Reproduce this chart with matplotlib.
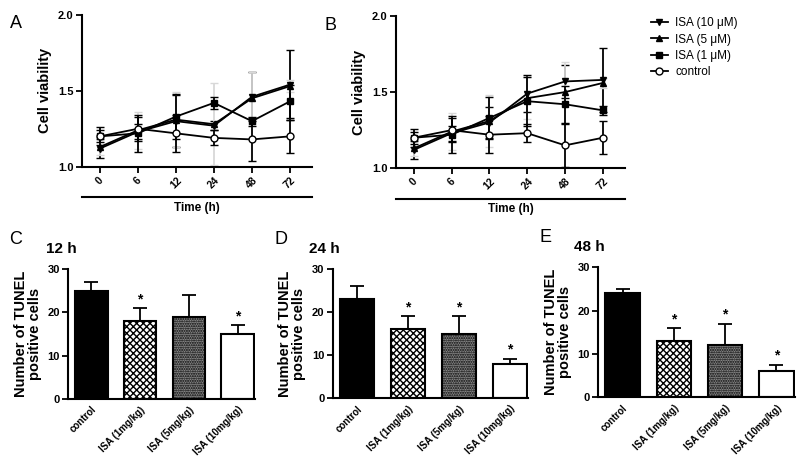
import numpy as np
import matplotlib.pyplot as plt
from matplotlib.lines import Line2D

plt.rcParams['font.family'] = ['Liberation Sans', 'DejaVu Sans']
plt.rcParams['hatch.linewidth'] = 1.0

# time course data (panels A and B)
times = ['0', '6', '12', '24', '48', '72']
series_names = ['ISA (10 μM)', 'ISA (5 μM)', 'ISA (1 μM)', 'control']

a_10 = [1.12, 1.23, 1.30, 1.27, 1.46, 1.54]
a_10_err = [0.06, 0.05, 0.17, 0.03, 0.16, 0.23]
a_5 = [1.13, 1.24, 1.31, 1.28, 1.45, 1.53]
a_5_err = [0.05, 0.12, 0.18, 0.27, 0.17, 0.04]
a_1 = [1.20, 1.22, 1.33, 1.42, 1.30, 1.43]
a_1_err = [0.04, 0.12, 0.15, 0.04, 0.03, 0.11]
a_ctrl = [1.20, 1.25, 1.22, 1.19, 1.18, 1.20]
a_ctrl_err = [0.06, 0.08, 0.12, 0.05, 0.14, 0.11]

b_10 = [1.12, 1.23, 1.30, 1.49, 1.57, 1.58]
b_10_err = [0.06, 0.05, 0.10, 0.12, 0.11, 0.21]
b_5 = [1.13, 1.24, 1.31, 1.46, 1.50, 1.56]
b_5_err = [0.05, 0.12, 0.17, 0.14, 0.20, 0.03]
b_1 = [1.20, 1.22, 1.33, 1.44, 1.42, 1.38]
b_1_err = [0.04, 0.12, 0.14, 0.16, 0.12, 0.03]
b_ctrl = [1.20, 1.25, 1.22, 1.23, 1.15, 1.20]
b_ctrl_err = [0.06, 0.08, 0.12, 0.06, 0.14, 0.11]

# TUNEL bars (panels C, D, E)
groups = ['control', 'ISA (1mg/kg)', 'ISA (5mg/kg)', 'ISA (10mg/kg)']
c_vals = [25, 18, 19, 15]
c_err = [2, 3, 5, 2]
c_star = [False, True, False, True]
d_vals = [23, 16, 15, 8]
d_err = [3, 3, 4, 1.2]
d_star = [False, True, True, True]
e_vals = [24, 13, 12, 6]
e_err = [1, 3, 5, 1.5]
e_star = [False, True, True, True]

fig = plt.figure(figsize=(8, 4.57), dpi=100)

markers = ['v', '^', 's', 'o']
faces = ['black', 'black', 'black', 'white']


def line_panel(pos, letter, data):
    ax = fig.add_axes(pos)
    x = np.arange(len(times))
    ecols = ['black', '#d8d8d8', 'black', 'black']
    for (y, e), m, fc, ec in zip(data, markers, faces, ecols):
        ax.errorbar(x, y, yerr=e, color='black', ecolor=ec, marker=m, ms=5,
                    mfc=fc, mec='black', mew=1, lw=1.3, capsize=3, capthick=1.3,
                    elinewidth=1.3)
    ax.set_ylim(1.0, 2.0)
    ax.set_xlim(-0.47, 5.58)
    ax.set_yticks([1.0, 1.5, 2.0])
    ax.set_xticks(x)
    ax.set_xticklabels(times, rotation=45, ha='center', fontsize=7.5, fontweight='bold')
    for t in ax.get_yticklabels():
        t.set_fontsize(8)
        t.set_fontweight('bold')
    ax.set_ylabel('Cell viability', fontsize=10.5, fontweight='bold')
    ax.spines['top'].set_visible(False)
    ax.spines['right'].set_visible(False)
    ax.spines['left'].set_linewidth(1.5)
    ax.spines['bottom'].set_linewidth(1.5)
    ax.tick_params(width=1.3, length=4, pad=2)
    ax.plot([0, 1], [-0.2, -0.2], transform=ax.transAxes, color='black', lw=1.5,
            clip_on=False)
    ax.text(0.5, -0.27, 'Time (h)', transform=ax.transAxes, ha='center', va='center',
            fontsize=8.5, fontweight='bold')
    fig.text(pos[0] - 0.09, pos[1] + pos[3] - 0.03, letter, fontsize=13)
    return ax


axA = line_panel([0.1025, 0.635, 0.2875, 0.333], 'A',
                 [(a_10, a_10_err), (a_5, a_5_err), (a_1, a_1_err), (a_ctrl, a_ctrl_err)])
axB = line_panel([0.495, 0.632, 0.286, 0.333], 'B',
                 [(b_10, b_10_err), (b_5, b_5_err), (b_1, b_1_err), (b_ctrl, b_ctrl_err)])

handles = [Line2D([], [], color='black', lw=1.3, marker=m, ms=5, mfc=fc, mec='black')
           for m, fc in zip(markers, faces)]
fig.legend(handles, series_names, loc='upper left', bbox_to_anchor=(0.8, 0.985),
           frameon=False, fontsize=8.5, handlelength=1.5, handletextpad=0.6,
           labelspacing=0.35)


def bar_panel(pos, letter, title, vals, errs, stars):
    ax = fig.add_axes(pos)
    x = np.arange(len(groups))
    bfaces = ['black', 'white', '#8a8a8a', 'white']
    hatches = [None, 'xxxxx', '.......', None]
    bars = ax.bar(x, vals, width=0.67, color=bfaces, edgecolor='black', linewidth=1.5,
                  zorder=2)
    for b, h in zip(bars, hatches):
        if h:
            b.set_hatch(h)
    ax.errorbar(x, vals, yerr=[np.zeros(len(errs)), errs], fmt='none', ecolor='black',
                elinewidth=1.3, capsize=5, capthick=1.3, zorder=1)
    for xi, v, e, s in zip(x, vals, errs, stars):
        if s:
            ax.text(xi, v + e + 0.4, '*', ha='center', va='bottom', fontsize=10,
                    fontweight='bold')
    ax.set_ylim(0, 30)
    ax.set_xlim(-0.48, 3.36)
    ax.set_yticks([0, 10, 20, 30])
    ax.set_xticks(x)
    ax.set_xticklabels(groups, rotation=45, ha='right', rotation_mode='anchor',
                       fontsize=7, fontweight='bold')
    for t in ax.get_yticklabels():
        t.set_fontsize(8)
        t.set_fontweight('bold')
    ax.set_ylabel('Number of TUNEL\npositive cells', fontsize=10.5, fontweight='bold',
                  linespacing=1.0)
    ax.spines['top'].set_visible(False)
    ax.spines['right'].set_visible(False)
    ax.spines['left'].set_linewidth(1.5)
    ax.spines['bottom'].set_linewidth(1.5)
    ax.tick_params(axis='y', width=1.3, length=4, pad=2)
    ax.tick_params(axis='x', length=0, pad=4)
    ax.set_title(title, fontsize=11, fontweight='bold', loc='left', x=-0.12, pad=12)
    fig.text(pos[0] - 0.073, pos[1] + pos[3] + 0.055, letter, fontsize=13)
    return ax


bar_panel([0.085, 0.127, 0.234, 0.284], 'C', '12 h', c_vals, c_err, c_star)
bar_panel([0.416, 0.129, 0.244, 0.282], 'D', '24 h', d_vals, d_err, d_star)
bar_panel([0.7475, 0.131, 0.246, 0.284], 'E', '48 h', e_vals, e_err, e_star)

fig.savefig('out.png', dpi=100)
